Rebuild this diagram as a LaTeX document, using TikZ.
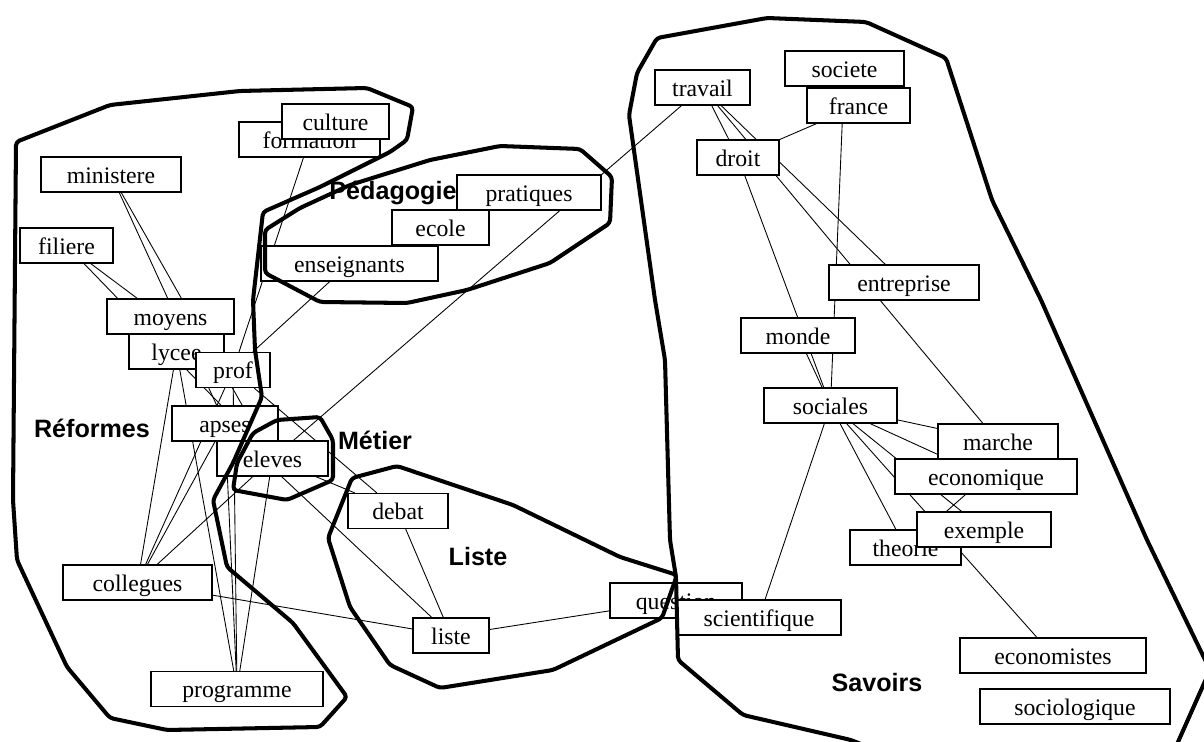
\documentclass[tikz,border=0pt]{standalone}
\usepackage{fontspec}
\setmainfont{Liberation Serif}
\newfontfamily\grpfont{Liberation Sans}

\pgfdeclarelayer{back}
\pgfdeclarelayer{front}
\pgfsetlayers{back,main,front}

\begin{document}
\begin{tikzpicture}[x=0.02cm, y=-0.02cm,
  wbox/.style={draw, fill=white, line width=0.7pt, inner sep=0pt, minimum height=0.7cm, minimum width=#1*0.2mm, text height=10pt, text depth=0pt, font=\fontsize{13.5}{16}\selectfont},
  grp/.style={inner sep=0pt, font=\grpfont\bfseries\fontsize{14.3}{16}\selectfont},
  link/.style={line width=0.5pt},
  hull/.style={line width=2.3pt, line join=round, rounded corners=2pt}]

\useasboundingbox (0,0) rectangle (1204,742);

\node[grp] (reformes) at (92,428) {Réformes};
\node[grp] (pedagogie) at (393,193) {Pédagogie};
\node[grp] (metier) at (375,440) {Métier};
\node[grp] (listegrp) at (478,557) {Liste};
\node[grp] (savoirs) at (877,683) {Savoirs};

\node[wbox=141] (formation) at (309.5,139.5) {formation};
\node[wbox=107] (culture) at (335.5,121.5) {culture};
\node[wbox=140] (ministere) at (111,174.5) {ministere};
\node[wbox=93] (filiere) at (66.5,245.5) {filiere};
\node[wbox=127] (moyens) at (170.5,316.5) {moyens};
\node[wbox=95] (lycee) at (176.5,351.5) {lycee};
\node[wbox=74] (prof) at (233,370) {prof};
\node[wbox=106] (apses) at (225,423.5) {apses};
\node[wbox=111] (eleves) at (272.5,458.5) {eleves};
\node[wbox=144] (pratiques) at (529,192.5) {pratiques};
\node[wbox=97] (ecole) at (440.5,227.5) {ecole};
\node[wbox=177] (enseignants) at (349.5,263.5) {enseignants};
\node[wbox=149] (collegues) at (137.5,582.5) {collegues};
\node[wbox=172] (programme) at (237,689) {programme};
\node[wbox=100] (debat) at (398,511) {debat};
\node[wbox=76] (liste) at (451,635.5) {liste};
\node[wbox=132] (question) at (676,600.5) {question};
\node[wbox=164] (scientifique) at (759,617.5) {scientifique};

\node[wbox=95] (travail) at (702.5,87.5) {travail};
\node[wbox=119] (societe) at (844.5,68.5) {societe};
\node[wbox=103] (france) at (858.5,105.5) {france};
\node[wbox=82] (droit) at (738,157.5) {droit};
\node[wbox=150] (entreprise) at (904,282.5) {entreprise};
\node[wbox=114] (monde) at (798,335.5) {monde};
\node[wbox=133] (sociales) at (830.5,405.5) {sociales};
\node[wbox=120] (marche) at (998,441.5) {marche};
\node[wbox=182] (economique) at (986,476.5) {economique};
\node[wbox=111] (theorie) at (905.5,547.5) {theorie};
\node[wbox=134] (exemple) at (984,529.5) {exemple};
\node[wbox=186] (economistes) at (1053,655.5) {economistes};
\node[wbox=190] (sociologique) at (1075,706.5) {sociologique};

\begin{pgfonlayer}{back}
\fill[white] (0,0) rectangle (1204,742);
\draw[link] (ministere) -- (apses);
\draw[link] (ministere) -- (eleves);
\draw[link] (filiere) -- (eleves);
\draw[link] (filiere) -- (prof);
\draw[link] (formation) -- (prof);
\draw[link] (enseignants) -- (prof);
\draw[link] (lycee) -- (collegues);
\draw[link] (lycee) -- (programme);
\draw[link] (prof) -- (collegues);
\draw[link] (apses) -- (collegues);
\draw[link] (eleves) -- (collegues);
\draw[link] (prof) -- (programme);
\draw[link] (apses) -- (programme);
\draw[link] (eleves) -- (programme);
\draw[link] (prof) -- (debat);
\draw[link] (eleves) -- (debat);
\draw[link] (apses) -- (liste);
\draw[link] (debat) -- (liste);
\draw[link] (collegues) -- (liste);
\draw[link] (liste) -- (question);

\draw[link] (travail) -- (eleves);
\draw[link] (travail) -- (droit);
\draw[link] (travail) -- (entreprise);
\draw[link] (travail) -- (marche);
\draw[link] (france) -- (droit);
\draw[link] (societe) -- (sociales);
\draw[link] (droit) -- (sociales);
\draw[link] (monde) -- (sociales);
\draw[link] (sociales) -- (marche);
\draw[link] (sociales) -- (economique);
\draw[link] (sociales) -- (exemple);
\draw[link] (sociales) -- (theorie);
\draw[link] (sociales) -- (economistes);
\draw[link] (sociales) -- (scientifique);
\draw[link] (economique) -- (theorie);
\end{pgfonlayer}

\begin{pgfonlayer}{front}
\clip (0,0) rectangle (1204,742);
\draw[hull] (16,142) -- (110,105) -- (240,91) -- (367,88) -- (413,107) -- (407,140) -- (390,152)
  -- (320,187) -- (263,212) -- (253,300) -- (255,350) -- (262,397) -- (233,463) -- (213,500)
  -- (227,567) -- (293,623) -- (347,697) -- (320,727) -- (167,730) -- (110,718) -- (67,667)
  -- (17,560) -- (13,500) -- cycle;
\draw[hull] (265,230) -- (300,208) -- (350,185) -- (430,160) -- (500,146) -- (580,149) -- (612,177)
  -- (610,223) -- (550,263) -- (467,290) -- (407,303) -- (320,302) -- (265,273) -- cycle;
\draw[hull] (233,490) -- (237,463) -- (253,433) -- (277,420) -- (320,417) -- (333,440)
  -- (333,480) -- (287,500) -- cycle;
\draw[hull] (352,478) -- (397,466) -- (513,505) -- (620,557) -- (677,575) -- (662,618)
  -- (553,670) -- (440,688) -- (390,665) -- (350,607) -- (328,538) -- cycle;
\draw[hull] (629,115) -- (637,73) -- (657,38) -- (767,18) -- (866,22) -- (946,58) -- (992,200)
  -- (1041,300) -- (1147,540) -- (1210,670) -- (1170,760) -- (900,760) -- (851,740) -- (743,715)
  -- (678,660) -- (676,577) -- (670,540) -- (665,360) -- (655,300) -- cycle;
\end{pgfonlayer}
\end{tikzpicture}
\end{document}
